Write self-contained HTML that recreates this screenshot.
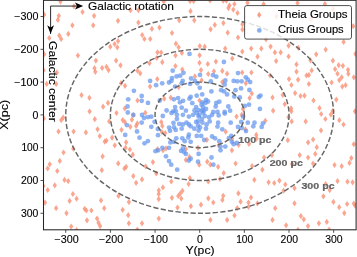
<!DOCTYPE html><html><head><meta charset="utf-8"><style>html,body{margin:0;padding:0;background:#fff;overflow:hidden}svg{display:block;filter:blur(0.3px)}text{font-family:"Liberation Sans",sans-serif;stroke:#000;stroke-width:0.12px}</style></head><body>
<svg width="357" height="257" viewBox="0 0 357 257">
<defs><clipPath id="pc"><rect x="43.50" y="0.30" width="312.60" height="229.50"/></clipPath><path id="dm" d="M0,-3.1 L2.15,0 L0,3.1 L-2.15,0Z"/></defs>
<g clip-path="url(#pc)">
<g fill="#f98d72" fill-opacity="0.78">
<use href="#dm" x="60.4" y="1.6"/>
<use href="#dm" x="74.0" y="6.3"/>
<use href="#dm" x="82.5" y="12.0"/>
<use href="#dm" x="44.1" y="14.7"/>
<use href="#dm" x="58.8" y="15.8"/>
<use href="#dm" x="57.9" y="19.9"/>
<use href="#dm" x="94.1" y="15.8"/>
<use href="#dm" x="72.4" y="25.3"/>
<use href="#dm" x="93.2" y="25.3"/>
<use href="#dm" x="118.0" y="20.8"/>
<use href="#dm" x="68.3" y="33.9"/>
<use href="#dm" x="59.3" y="35.5"/>
<use href="#dm" x="61.1" y="38.9"/>
<use href="#dm" x="49.3" y="38.0"/>
<use href="#dm" x="110.3" y="46.7"/>
<use href="#dm" x="114.6" y="44.0"/>
<use href="#dm" x="118.1" y="41.1"/>
<use href="#dm" x="117.3" y="47.3"/>
<use href="#dm" x="77.9" y="55.5"/>
<use href="#dm" x="44.1" y="54.2"/>
<use href="#dm" x="163.8" y="1.4"/>
<use href="#dm" x="190.1" y="1.1"/>
<use href="#dm" x="193.6" y="1.1"/>
<use href="#dm" x="130.5" y="10.2"/>
<use href="#dm" x="138.4" y="10.2"/>
<use href="#dm" x="190.5" y="11.2"/>
<use href="#dm" x="138.4" y="22.6"/>
<use href="#dm" x="179.2" y="20.3"/>
<use href="#dm" x="194.3" y="20.3"/>
<use href="#dm" x="151.9" y="28.9"/>
<use href="#dm" x="159.4" y="27.6"/>
<use href="#dm" x="172.0" y="33.0"/>
<use href="#dm" x="142.2" y="35.0"/>
<use href="#dm" x="144.4" y="39.0"/>
<use href="#dm" x="150.2" y="39.0"/>
<use href="#dm" x="175.9" y="43.7"/>
<use href="#dm" x="178.6" y="47.3"/>
<use href="#dm" x="157.5" y="52.3"/>
<use href="#dm" x="161.2" y="52.5"/>
<use href="#dm" x="175.5" y="55.4"/>
<use href="#dm" x="181.9" y="53.0"/>
<use href="#dm" x="199.8" y="46.1"/>
<use href="#dm" x="204.7" y="46.7"/>
<use href="#dm" x="199.6" y="55.3"/>
<use href="#dm" x="210.1" y="0.5"/>
<use href="#dm" x="223.2" y="0.7"/>
<use href="#dm" x="226.4" y="0.7"/>
<use href="#dm" x="229.5" y="5.4"/>
<use href="#dm" x="228.4" y="8.1"/>
<use href="#dm" x="234.4" y="4.0"/>
<use href="#dm" x="233.3" y="9.6"/>
<use href="#dm" x="237.5" y="13.0"/>
<use href="#dm" x="247.5" y="2.8"/>
<use href="#dm" x="214.8" y="24.9"/>
<use href="#dm" x="210.6" y="29.3"/>
<use href="#dm" x="223.4" y="23.1"/>
<use href="#dm" x="227.7" y="32.7"/>
<use href="#dm" x="238.0" y="37.5"/>
<use href="#dm" x="242.4" y="24.3"/>
<use href="#dm" x="242.4" y="29.6"/>
<use href="#dm" x="263.6" y="4.1"/>
<use href="#dm" x="276.4" y="16.3"/>
<use href="#dm" x="266.0" y="39.3"/>
<use href="#dm" x="225.2" y="48.6"/>
<use href="#dm" x="251.2" y="48.6"/>
<use href="#dm" x="261.3" y="48.6"/>
<use href="#dm" x="270.6" y="46.6"/>
<use href="#dm" x="242.3" y="51.6"/>
<use href="#dm" x="274.9" y="52.4"/>
<use href="#dm" x="280.7" y="52.4"/>
<use href="#dm" x="257.5" y="56.7"/>
<use href="#dm" x="232.3" y="58.5"/>
<use href="#dm" x="297.5" y="3.0"/>
<use href="#dm" x="324.9" y="4.0"/>
<use href="#dm" x="333.0" y="9.1"/>
<use href="#dm" x="311.2" y="19.2"/>
<use href="#dm" x="353.2" y="26.2"/>
<use href="#dm" x="288.6" y="45.7"/>
<use href="#dm" x="298.3" y="47.8"/>
<use href="#dm" x="288.6" y="56.5"/>
<use href="#dm" x="316.2" y="54.3"/>
<use href="#dm" x="325.7" y="49.6"/>
<use href="#dm" x="343.6" y="42.0"/>
<use href="#dm" x="355.5" y="53.9"/>
<use href="#dm" x="95.9" y="60.6"/>
<use href="#dm" x="94.5" y="68.2"/>
<use href="#dm" x="95.3" y="71.8"/>
<use href="#dm" x="102.1" y="67.9"/>
<use href="#dm" x="106.5" y="66.8"/>
<use href="#dm" x="108.5" y="70.1"/>
<use href="#dm" x="116.1" y="60.6"/>
<use href="#dm" x="120.5" y="65.3"/>
<use href="#dm" x="56.8" y="72.6"/>
<use href="#dm" x="56.1" y="83.9"/>
<use href="#dm" x="46.7" y="83.9"/>
<use href="#dm" x="43.5" y="70.3"/>
<use href="#dm" x="121.0" y="83.2"/>
<use href="#dm" x="81.5" y="95.1"/>
<use href="#dm" x="89.4" y="97.8"/>
<use href="#dm" x="103.1" y="106.7"/>
<use href="#dm" x="108.0" y="102.9"/>
<use href="#dm" x="89.6" y="111.4"/>
<use href="#dm" x="116.5" y="113.0"/>
<use href="#dm" x="137.5" y="70.7"/>
<use href="#dm" x="140.2" y="73.3"/>
<use href="#dm" x="149.5" y="63.2"/>
<use href="#dm" x="156.7" y="58.0"/>
<use href="#dm" x="162.3" y="62.2"/>
<use href="#dm" x="157.3" y="79.1"/>
<use href="#dm" x="125.0" y="85.8"/>
<use href="#dm" x="175.4" y="66.1"/>
<use href="#dm" x="182.3" y="69.5"/>
<use href="#dm" x="199.5" y="62.8"/>
<use href="#dm" x="201.0" y="70.1"/>
<use href="#dm" x="194.9" y="76.4"/>
<use href="#dm" x="201.6" y="80.3"/>
<use href="#dm" x="150.1" y="86.6"/>
<use href="#dm" x="137.5" y="100.5"/>
<use href="#dm" x="124.8" y="108.5"/>
<use href="#dm" x="145.3" y="112.8"/>
<use href="#dm" x="178.7" y="87.2"/>
<use href="#dm" x="164.2" y="98.7"/>
<use href="#dm" x="170.8" y="97.7"/>
<use href="#dm" x="199.5" y="100.5"/>
<use href="#dm" x="207.8" y="64.0"/>
<use href="#dm" x="215.9" y="61.6"/>
<use href="#dm" x="208.2" y="74.0"/>
<use href="#dm" x="213.9" y="71.3"/>
<use href="#dm" x="222.3" y="70.9"/>
<use href="#dm" x="227.1" y="73.7"/>
<use href="#dm" x="242.2" y="72.5"/>
<use href="#dm" x="222.3" y="82.1"/>
<use href="#dm" x="276.1" y="61.0"/>
<use href="#dm" x="251.4" y="72.5"/>
<use href="#dm" x="270.1" y="75.5"/>
<use href="#dm" x="245.8" y="83.3"/>
<use href="#dm" x="296.5" y="64.4"/>
<use href="#dm" x="296.5" y="71.7"/>
<use href="#dm" x="310.5" y="60.4"/>
<use href="#dm" x="311.7" y="70.4"/>
<use href="#dm" x="306.5" y="75.5"/>
<use href="#dm" x="308.9" y="74.9"/>
<use href="#dm" x="289.0" y="79.1"/>
<use href="#dm" x="298.1" y="79.7"/>
<use href="#dm" x="291.4" y="85.0"/>
<use href="#dm" x="308.9" y="84.0"/>
<use href="#dm" x="338.7" y="65.2"/>
<use href="#dm" x="342.9" y="65.8"/>
<use href="#dm" x="335.1" y="69.2"/>
<use href="#dm" x="337.5" y="73.7"/>
<use href="#dm" x="348.0" y="69.8"/>
<use href="#dm" x="348.3" y="73.8"/>
<use href="#dm" x="341.7" y="77.3"/>
<use href="#dm" x="339.3" y="80.1"/>
<use href="#dm" x="353.8" y="77.3"/>
<use href="#dm" x="331.6" y="82.5"/>
<use href="#dm" x="345.6" y="85.2"/>
<use href="#dm" x="251.8" y="93.6"/>
<use href="#dm" x="249.6" y="98.1"/>
<use href="#dm" x="272.5" y="97.5"/>
<use href="#dm" x="273.1" y="110.7"/>
<use href="#dm" x="282.8" y="95.0"/>
<use href="#dm" x="243.0" y="108.9"/>
<use href="#dm" x="295.1" y="93.2"/>
<use href="#dm" x="300.5" y="96.0"/>
<use href="#dm" x="304.5" y="95.7"/>
<use href="#dm" x="313.5" y="100.5"/>
<use href="#dm" x="284.8" y="104.1"/>
<use href="#dm" x="291.1" y="108.3"/>
<use href="#dm" x="291.4" y="111.3"/>
<use href="#dm" x="319.5" y="108.1"/>
<use href="#dm" x="321.2" y="114.0"/>
<use href="#dm" x="342.3" y="86.6"/>
<use href="#dm" x="336.3" y="99.6"/>
<use href="#dm" x="332.7" y="111.0"/>
<use href="#dm" x="355.0" y="111.3"/>
<use href="#dm" x="43.8" y="118.4"/>
<use href="#dm" x="61.2" y="120.1"/>
<use href="#dm" x="63.2" y="117.6"/>
<use href="#dm" x="58.5" y="131.5"/>
<use href="#dm" x="73.6" y="131.5"/>
<use href="#dm" x="85.9" y="132.4"/>
<use href="#dm" x="94.8" y="119.2"/>
<use href="#dm" x="97.6" y="129.3"/>
<use href="#dm" x="99.8" y="136.1"/>
<use href="#dm" x="73.3" y="148.7"/>
<use href="#dm" x="63.5" y="152.5"/>
<use href="#dm" x="109.2" y="121.4"/>
<use href="#dm" x="122.7" y="120.1"/>
<use href="#dm" x="124.9" y="122.1"/>
<use href="#dm" x="131.9" y="119.7"/>
<use href="#dm" x="130.3" y="126.8"/>
<use href="#dm" x="121.5" y="129.8"/>
<use href="#dm" x="136.1" y="126.0"/>
<use href="#dm" x="137.3" y="123.4"/>
<use href="#dm" x="104.7" y="141.6"/>
<use href="#dm" x="106.4" y="140.6"/>
<use href="#dm" x="112.1" y="137.7"/>
<use href="#dm" x="114.8" y="145.3"/>
<use href="#dm" x="126.1" y="142.3"/>
<use href="#dm" x="125.5" y="147.8"/>
<use href="#dm" x="129.9" y="149.5"/>
<use href="#dm" x="133.3" y="115.0"/>
<use href="#dm" x="161.3" y="122.0"/>
<use href="#dm" x="162.3" y="125.9"/>
<use href="#dm" x="161.8" y="132.0"/>
<use href="#dm" x="165.2" y="133.0"/>
<use href="#dm" x="236.5" y="116.6"/>
<use href="#dm" x="225.7" y="131.7"/>
<use href="#dm" x="206.9" y="139.8"/>
<use href="#dm" x="232.0" y="139.0"/>
<use href="#dm" x="157.6" y="149.0"/>
<use href="#dm" x="163.0" y="150.3"/>
<use href="#dm" x="166.0" y="148.4"/>
<use href="#dm" x="185.9" y="149.0"/>
<use href="#dm" x="185.9" y="159.9"/>
<use href="#dm" x="189.5" y="156.9"/>
<use href="#dm" x="198.0" y="147.8"/>
<use href="#dm" x="199.2" y="164.7"/>
<use href="#dm" x="218.7" y="145.4"/>
<use href="#dm" x="231.9" y="150.3"/>
<use href="#dm" x="238.6" y="144.8"/>
<use href="#dm" x="207.2" y="161.7"/>
<use href="#dm" x="210.3" y="164.7"/>
<use href="#dm" x="235.6" y="163.5"/>
<use href="#dm" x="218.1" y="166.8"/>
<use href="#dm" x="241.8" y="114.8"/>
<use href="#dm" x="265.3" y="120.8"/>
<use href="#dm" x="245.4" y="129.3"/>
<use href="#dm" x="256.3" y="134.9"/>
<use href="#dm" x="288.4" y="117.2"/>
<use href="#dm" x="291.7" y="121.4"/>
<use href="#dm" x="305.7" y="121.4"/>
<use href="#dm" x="321.0" y="130.5"/>
<use href="#dm" x="287.8" y="140.2"/>
<use href="#dm" x="313.1" y="139.5"/>
<use href="#dm" x="325.4" y="119.0"/>
<use href="#dm" x="330.9" y="114.6"/>
<use href="#dm" x="339.3" y="120.2"/>
<use href="#dm" x="343.5" y="124.5"/>
<use href="#dm" x="256.6" y="138.6"/>
<use href="#dm" x="249.0" y="143.8"/>
<use href="#dm" x="264.1" y="157.5"/>
<use href="#dm" x="271.9" y="155.1"/>
<use href="#dm" x="252.1" y="166.0"/>
<use href="#dm" x="308.1" y="142.4"/>
<use href="#dm" x="316.8" y="147.2"/>
<use href="#dm" x="315.3" y="153.9"/>
<use href="#dm" x="299.7" y="155.1"/>
<use href="#dm" x="308.1" y="157.5"/>
<use href="#dm" x="292.1" y="164.1"/>
<use href="#dm" x="313.1" y="163.5"/>
<use href="#dm" x="353.8" y="144.2"/>
<use href="#dm" x="351.3" y="158.1"/>
<use href="#dm" x="349.5" y="162.9"/>
<use href="#dm" x="334.5" y="165.0"/>
<use href="#dm" x="341.7" y="166.2"/>
<use href="#dm" x="59.8" y="160.9"/>
<use href="#dm" x="49.7" y="164.3"/>
<use href="#dm" x="47.7" y="168.5"/>
<use href="#dm" x="57.3" y="171.0"/>
<use href="#dm" x="64.5" y="179.9"/>
<use href="#dm" x="68.2" y="181.1"/>
<use href="#dm" x="54.8" y="185.3"/>
<use href="#dm" x="47.7" y="190.0"/>
<use href="#dm" x="72.9" y="194.0"/>
<use href="#dm" x="102.6" y="156.4"/>
<use href="#dm" x="101.8" y="170.2"/>
<use href="#dm" x="43.3" y="186.1"/>
<use href="#dm" x="132.8" y="154.7"/>
<use href="#dm" x="118.2" y="163.4"/>
<use href="#dm" x="124.4" y="168.5"/>
<use href="#dm" x="126.1" y="166.8"/>
<use href="#dm" x="133.3" y="176.1"/>
<use href="#dm" x="136.1" y="182.8"/>
<use href="#dm" x="142.0" y="179.4"/>
<use href="#dm" x="145.7" y="166.5"/>
<use href="#dm" x="152.9" y="162.1"/>
<use href="#dm" x="156.3" y="173.5"/>
<use href="#dm" x="158.8" y="190.3"/>
<use href="#dm" x="171.3" y="181.5"/>
<use href="#dm" x="162.9" y="187.4"/>
<use href="#dm" x="158.7" y="194.1"/>
<use href="#dm" x="158.7" y="199.1"/>
<use href="#dm" x="189.8" y="178.1"/>
<use href="#dm" x="188.6" y="184.0"/>
<use href="#dm" x="182.4" y="190.8"/>
<use href="#dm" x="180.2" y="193.5"/>
<use href="#dm" x="178.2" y="196.0"/>
<use href="#dm" x="181.3" y="198.6"/>
<use href="#dm" x="171.9" y="197.8"/>
<use href="#dm" x="208.3" y="181.5"/>
<use href="#dm" x="208.3" y="198.3"/>
<use href="#dm" x="213.3" y="202.5"/>
<use href="#dm" x="190.9" y="206.2"/>
<use href="#dm" x="201.0" y="204.7"/>
<use href="#dm" x="223.7" y="173.1"/>
<use href="#dm" x="219.9" y="179.0"/>
<use href="#dm" x="262.4" y="169.7"/>
<use href="#dm" x="254.3" y="179.8"/>
<use href="#dm" x="268.6" y="182.3"/>
<use href="#dm" x="274.2" y="183.0"/>
<use href="#dm" x="238.4" y="193.3"/>
<use href="#dm" x="223.2" y="195.8"/>
<use href="#dm" x="222.4" y="200.0"/>
<use href="#dm" x="240.6" y="201.7"/>
<use href="#dm" x="251.0" y="197.5"/>
<use href="#dm" x="248.5" y="202.5"/>
<use href="#dm" x="257.4" y="203.3"/>
<use href="#dm" x="279.4" y="180.6"/>
<use href="#dm" x="285.3" y="184.5"/>
<use href="#dm" x="283.6" y="190.7"/>
<use href="#dm" x="294.5" y="188.2"/>
<use href="#dm" x="325.6" y="184.0"/>
<use href="#dm" x="323.4" y="196.3"/>
<use href="#dm" x="294.5" y="203.3"/>
<use href="#dm" x="337.5" y="181.1"/>
<use href="#dm" x="347.5" y="181.7"/>
<use href="#dm" x="352.6" y="182.3"/>
<use href="#dm" x="329.7" y="190.1"/>
<use href="#dm" x="45.0" y="202.6"/>
<use href="#dm" x="69.6" y="200.9"/>
<use href="#dm" x="76.6" y="198.7"/>
<use href="#dm" x="56.1" y="208.2"/>
<use href="#dm" x="66.5" y="213.2"/>
<use href="#dm" x="84.7" y="208.8"/>
<use href="#dm" x="86.4" y="210.5"/>
<use href="#dm" x="91.4" y="210.5"/>
<use href="#dm" x="87.0" y="220.3"/>
<use href="#dm" x="71.2" y="226.6"/>
<use href="#dm" x="76.6" y="230.0"/>
<use href="#dm" x="101.0" y="200.4"/>
<use href="#dm" x="97.1" y="218.6"/>
<use href="#dm" x="98.5" y="222.8"/>
<use href="#dm" x="100.1" y="226.1"/>
<use href="#dm" x="104.2" y="208.2"/>
<use href="#dm" x="118.5" y="195.9"/>
<use href="#dm" x="128.9" y="202.1"/>
<use href="#dm" x="122.7" y="209.8"/>
<use href="#dm" x="128.2" y="215.2"/>
<use href="#dm" x="128.9" y="223.3"/>
<use href="#dm" x="142.0" y="223.3"/>
<use href="#dm" x="137.3" y="229.5"/>
<use href="#dm" x="158.8" y="218.6"/>
<use href="#dm" x="177.5" y="207.6"/>
<use href="#dm" x="210.4" y="219.9"/>
<use href="#dm" x="248.5" y="206.8"/>
<use href="#dm" x="237.2" y="208.1"/>
<use href="#dm" x="234.5" y="215.5"/>
<use href="#dm" x="227.1" y="219.9"/>
<use href="#dm" x="272.5" y="219.9"/>
<use href="#dm" x="275.2" y="208.2"/>
<use href="#dm" x="300.9" y="216.1"/>
<use href="#dm" x="303.8" y="219.4"/>
<use href="#dm" x="286.1" y="225.3"/>
<use href="#dm" x="308.0" y="226.1"/>
<use href="#dm" x="318.9" y="223.3"/>
<use href="#dm" x="326.8" y="221.9"/>
<use href="#dm" x="298.0" y="229.8"/>
<use href="#dm" x="333.4" y="201.9"/>
<use href="#dm" x="339.2" y="207.2"/>
<use href="#dm" x="347.1" y="204.0"/>
<use href="#dm" x="353.8" y="203.5"/>
<use href="#dm" x="355.3" y="205.8"/>
<use href="#dm" x="344.3" y="213.1"/>
<use href="#dm" x="329.1" y="229.5"/>
<use href="#dm" x="332.9" y="60.7"/>
</g>
<g fill="#6495ed" fill-opacity="0.72">
<circle cx="189.5" cy="53.9" r="2.4"/>
<circle cx="150.1" cy="80.9" r="2.4"/>
<circle cx="156.1" cy="85.2" r="2.4"/>
<circle cx="162.2" cy="83.3" r="2.4"/>
<circle cx="172.7" cy="70.7" r="2.4"/>
<circle cx="183.5" cy="72.8" r="2.4"/>
<circle cx="200.0" cy="74.9" r="2.4"/>
<circle cx="176.6" cy="76.4" r="2.4"/>
<circle cx="180.2" cy="75.7" r="2.4"/>
<circle cx="172.0" cy="78.1" r="2.4"/>
<circle cx="191.1" cy="78.5" r="2.4"/>
<circle cx="171.4" cy="80.9" r="2.4"/>
<circle cx="169.0" cy="82.5" r="2.4"/>
<circle cx="182.7" cy="80.9" r="2.4"/>
<circle cx="181.7" cy="83.3" r="2.4"/>
<circle cx="194.9" cy="80.9" r="2.4"/>
<circle cx="197.3" cy="83.3" r="2.4"/>
<circle cx="190.1" cy="83.9" r="2.4"/>
<circle cx="133.9" cy="90.8" r="2.4"/>
<circle cx="141.7" cy="96.0" r="2.4"/>
<circle cx="128.2" cy="99.3" r="2.4"/>
<circle cx="141.7" cy="100.8" r="2.4"/>
<circle cx="148.0" cy="102.9" r="2.4"/>
<circle cx="159.8" cy="100.5" r="2.4"/>
<circle cx="127.5" cy="106.5" r="2.4"/>
<circle cx="127.8" cy="112.5" r="2.4"/>
<circle cx="175.1" cy="86.6" r="2.4"/>
<circle cx="199.8" cy="87.8" r="2.4"/>
<circle cx="173.9" cy="99.3" r="2.4"/>
<circle cx="178.1" cy="98.1" r="2.4"/>
<circle cx="179.9" cy="102.3" r="2.4"/>
<circle cx="183.1" cy="100.8" r="2.4"/>
<circle cx="189.5" cy="98.7" r="2.4"/>
<circle cx="190.7" cy="96.9" r="2.4"/>
<circle cx="196.7" cy="95.7" r="2.4"/>
<circle cx="202.2" cy="94.4" r="2.4"/>
<circle cx="192.3" cy="103.2" r="2.4"/>
<circle cx="175.1" cy="107.1" r="2.4"/>
<circle cx="181.7" cy="107.7" r="2.4"/>
<circle cx="166.6" cy="110.5" r="2.4"/>
<circle cx="173.3" cy="111.3" r="2.4"/>
<circle cx="185.9" cy="110.7" r="2.4"/>
<circle cx="196.1" cy="107.1" r="2.4"/>
<circle cx="198.6" cy="110.1" r="2.4"/>
<circle cx="201.6" cy="104.7" r="2.4"/>
<circle cx="201.6" cy="110.7" r="2.4"/>
<circle cx="223.9" cy="62.0" r="2.4"/>
<circle cx="213.0" cy="75.2" r="2.4"/>
<circle cx="216.3" cy="76.7" r="2.4"/>
<circle cx="238.0" cy="73.1" r="2.4"/>
<circle cx="210.8" cy="81.5" r="2.4"/>
<circle cx="225.3" cy="80.5" r="2.4"/>
<circle cx="233.7" cy="80.9" r="2.4"/>
<circle cx="237.3" cy="81.3" r="2.4"/>
<circle cx="241.6" cy="81.3" r="2.4"/>
<circle cx="224.7" cy="84.5" r="2.4"/>
<circle cx="245.8" cy="77.3" r="2.4"/>
<circle cx="247.8" cy="79.7" r="2.4"/>
<circle cx="250.2" cy="82.1" r="2.4"/>
<circle cx="241.0" cy="88.4" r="2.4"/>
<circle cx="249.4" cy="90.0" r="2.4"/>
<circle cx="258.8" cy="97.0" r="2.4"/>
<circle cx="260.5" cy="95.6" r="2.4"/>
<circle cx="249.0" cy="104.7" r="2.4"/>
<circle cx="244.8" cy="105.9" r="2.4"/>
<circle cx="259.9" cy="108.9" r="2.4"/>
<circle cx="239.8" cy="97.5" r="2.4"/>
<circle cx="211.4" cy="91.4" r="2.4"/>
<circle cx="221.1" cy="90.2" r="2.4"/>
<circle cx="224.1" cy="91.4" r="2.4"/>
<circle cx="227.1" cy="94.4" r="2.4"/>
<circle cx="235.5" cy="90.2" r="2.4"/>
<circle cx="234.3" cy="96.5" r="2.4"/>
<circle cx="206.0" cy="99.9" r="2.4"/>
<circle cx="202.4" cy="102.3" r="2.4"/>
<circle cx="205.4" cy="102.9" r="2.4"/>
<circle cx="208.0" cy="101.5" r="2.4"/>
<circle cx="216.3" cy="102.9" r="2.4"/>
<circle cx="219.3" cy="101.7" r="2.4"/>
<circle cx="215.7" cy="106.5" r="2.4"/>
<circle cx="228.3" cy="106.5" r="2.4"/>
<circle cx="203.0" cy="107.1" r="2.4"/>
<circle cx="203.6" cy="110.7" r="2.4"/>
<circle cx="213.3" cy="111.9" r="2.4"/>
<circle cx="217.5" cy="111.9" r="2.4"/>
<circle cx="224.7" cy="111.9" r="2.4"/>
<circle cx="230.1" cy="110.7" r="2.4"/>
<circle cx="133.3" cy="115.0" r="2.4"/>
<circle cx="142.0" cy="115.0" r="2.4"/>
<circle cx="144.0" cy="118.1" r="2.4"/>
<circle cx="147.9" cy="117.1" r="2.4"/>
<circle cx="151.3" cy="116.7" r="2.4"/>
<circle cx="154.6" cy="121.8" r="2.4"/>
<circle cx="141.7" cy="122.6" r="2.4"/>
<circle cx="126.9" cy="125.1" r="2.4"/>
<circle cx="151.3" cy="126.8" r="2.4"/>
<circle cx="137.0" cy="131.5" r="2.4"/>
<circle cx="125.2" cy="134.9" r="2.4"/>
<circle cx="139.5" cy="137.7" r="2.4"/>
<circle cx="158.0" cy="135.2" r="2.4"/>
<circle cx="147.9" cy="141.1" r="2.4"/>
<circle cx="144.5" cy="143.3" r="2.4"/>
<circle cx="155.5" cy="151.2" r="2.4"/>
<circle cx="171.5" cy="113.0" r="2.4"/>
<circle cx="175.7" cy="111.2" r="2.4"/>
<circle cx="176.9" cy="114.8" r="2.4"/>
<circle cx="182.9" cy="114.8" r="2.4"/>
<circle cx="188.9" cy="116.6" r="2.4"/>
<circle cx="193.1" cy="114.8" r="2.4"/>
<circle cx="196.8" cy="113.0" r="2.4"/>
<circle cx="198.6" cy="116.6" r="2.4"/>
<circle cx="162.8" cy="116.0" r="2.4"/>
<circle cx="176.9" cy="119.0" r="2.4"/>
<circle cx="173.5" cy="123.0" r="2.4"/>
<circle cx="179.3" cy="123.9" r="2.4"/>
<circle cx="182.9" cy="124.5" r="2.4"/>
<circle cx="186.5" cy="122.7" r="2.4"/>
<circle cx="188.9" cy="124.5" r="2.4"/>
<circle cx="190.7" cy="126.3" r="2.4"/>
<circle cx="196.2" cy="122.0" r="2.4"/>
<circle cx="198.0" cy="125.7" r="2.4"/>
<circle cx="194.3" cy="128.7" r="2.4"/>
<circle cx="169.1" cy="127.6" r="2.4"/>
<circle cx="174.0" cy="127.3" r="2.4"/>
<circle cx="175.7" cy="129.9" r="2.4"/>
<circle cx="181.7" cy="128.7" r="2.4"/>
<circle cx="170.0" cy="130.8" r="2.4"/>
<circle cx="157.9" cy="129.1" r="2.4"/>
<circle cx="188.9" cy="134.7" r="2.4"/>
<circle cx="176.3" cy="138.3" r="2.4"/>
<circle cx="182.3" cy="138.3" r="2.4"/>
<circle cx="198.6" cy="130.5" r="2.4"/>
<circle cx="196.8" cy="135.9" r="2.4"/>
<circle cx="199.4" cy="114.8" r="2.4"/>
<circle cx="204.8" cy="116.0" r="2.4"/>
<circle cx="201.8" cy="119.0" r="2.4"/>
<circle cx="209.0" cy="117.2" r="2.4"/>
<circle cx="209.7" cy="121.4" r="2.4"/>
<circle cx="198.2" cy="121.4" r="2.4"/>
<circle cx="202.4" cy="122.7" r="2.4"/>
<circle cx="206.6" cy="124.5" r="2.4"/>
<circle cx="212.1" cy="114.8" r="2.4"/>
<circle cx="218.7" cy="115.4" r="2.4"/>
<circle cx="224.7" cy="113.6" r="2.4"/>
<circle cx="218.1" cy="122.7" r="2.4"/>
<circle cx="217.5" cy="126.6" r="2.4"/>
<circle cx="222.3" cy="129.3" r="2.4"/>
<circle cx="230.7" cy="122.7" r="2.4"/>
<circle cx="206.0" cy="128.7" r="2.4"/>
<circle cx="200.0" cy="127.5" r="2.4"/>
<circle cx="238.0" cy="126.9" r="2.4"/>
<circle cx="201.2" cy="135.9" r="2.4"/>
<circle cx="212.1" cy="136.5" r="2.4"/>
<circle cx="215.1" cy="138.3" r="2.4"/>
<circle cx="231.3" cy="135.9" r="2.4"/>
<circle cx="170.3" cy="142.4" r="2.4"/>
<circle cx="173.9" cy="141.8" r="2.4"/>
<circle cx="184.7" cy="141.2" r="2.4"/>
<circle cx="190.7" cy="141.8" r="2.4"/>
<circle cx="188.3" cy="137.5" r="2.4"/>
<circle cx="162.4" cy="147.8" r="2.4"/>
<circle cx="169.0" cy="147.8" r="2.4"/>
<circle cx="181.1" cy="150.9" r="2.4"/>
<circle cx="182.9" cy="148.4" r="2.4"/>
<circle cx="184.1" cy="152.1" r="2.4"/>
<circle cx="185.9" cy="153.9" r="2.4"/>
<circle cx="166.0" cy="156.3" r="2.4"/>
<circle cx="190.7" cy="158.7" r="2.4"/>
<circle cx="188.9" cy="160.5" r="2.4"/>
<circle cx="169.0" cy="161.1" r="2.4"/>
<circle cx="171.2" cy="164.7" r="2.4"/>
<circle cx="198.0" cy="161.7" r="2.4"/>
<circle cx="198.6" cy="153.9" r="2.4"/>
<circle cx="158.2" cy="150.3" r="2.4"/>
<circle cx="204.2" cy="140.0" r="2.4"/>
<circle cx="219.3" cy="141.2" r="2.4"/>
<circle cx="220.5" cy="146.6" r="2.4"/>
<circle cx="225.3" cy="146.6" r="2.4"/>
<circle cx="220.5" cy="150.3" r="2.4"/>
<circle cx="228.9" cy="138.2" r="2.4"/>
<circle cx="231.9" cy="141.8" r="2.4"/>
<circle cx="233.7" cy="144.2" r="2.4"/>
<circle cx="236.8" cy="143.0" r="2.4"/>
<circle cx="211.5" cy="157.5" r="2.4"/>
<circle cx="213.3" cy="164.7" r="2.4"/>
<circle cx="243.0" cy="116.6" r="2.4"/>
<circle cx="241.2" cy="122.0" r="2.4"/>
<circle cx="247.8" cy="122.7" r="2.4"/>
<circle cx="254.5" cy="122.7" r="2.4"/>
<circle cx="253.3" cy="126.3" r="2.4"/>
<circle cx="262.9" cy="123.3" r="2.4"/>
<circle cx="261.7" cy="126.9" r="2.4"/>
<circle cx="241.8" cy="128.1" r="2.4"/>
<circle cx="246.0" cy="131.1" r="2.4"/>
<circle cx="177.2" cy="169.7" r="2.4"/>
<circle cx="194.5" cy="110.5" r="2.4"/>
<circle cx="203.2" cy="112.8" r="2.4"/>
<circle cx="206.0" cy="109.0" r="2.4"/>
</g>
<ellipse cx="199.70" cy="114.90" rx="44.65" ry="32.79" fill="none" stroke="#666" stroke-width="1.45" stroke-dasharray="5.2,2.3"/>
<ellipse cx="199.70" cy="114.90" rx="89.30" ry="65.58" fill="none" stroke="#666" stroke-width="1.45" stroke-dasharray="5.2,2.3"/>
<ellipse cx="199.70" cy="114.90" rx="133.95" ry="98.37" fill="none" stroke="#666" stroke-width="1.45" stroke-dasharray="5.2,2.3"/>
</g>
<g font-weight="bold" fill="#6b6b6b" style="stroke:none" font-size="9.8">
<text x="238.3" y="142.7" textLength="33.2" lengthAdjust="spacingAndGlyphs">100 pc</text>
<text x="269.7" y="166.2" textLength="33.2" lengthAdjust="spacingAndGlyphs">200 pc</text>
<text x="301.4" y="189.2" textLength="33.2" lengthAdjust="spacingAndGlyphs">300 pc</text>
</g>
<rect x="43.50" y="0.30" width="312.60" height="229.50" fill="none" stroke="#262626" stroke-width="1.05"/>
<path d="M65.75,229.80v3M43.50,16.53h-3M110.40,229.80v3M43.50,49.32h-3M155.05,229.80v3M43.50,82.11h-3M199.70,229.80v3M43.50,114.90h-3M244.35,229.80v3M43.50,147.69h-3M289.00,229.80v3M43.50,180.48h-3M333.65,229.80v3M43.50,213.27h-3" stroke="#333" stroke-width="0.85" fill="none"/>
<g font-size="10.2" fill="#000">
<text x="66.55" y="242.7" text-anchor="middle" textLength="24.2" lengthAdjust="spacingAndGlyphs">−300</text>
<text x="38.4" y="20.23" text-anchor="end" textLength="24.2" lengthAdjust="spacingAndGlyphs">−300</text>
<text x="111.20" y="242.7" text-anchor="middle" textLength="24.2" lengthAdjust="spacingAndGlyphs">−200</text>
<text x="38.4" y="53.02" text-anchor="end" textLength="24.2" lengthAdjust="spacingAndGlyphs">−200</text>
<text x="155.85" y="242.7" text-anchor="middle" textLength="24.2" lengthAdjust="spacingAndGlyphs">−100</text>
<text x="38.4" y="85.81" text-anchor="end" textLength="24.2" lengthAdjust="spacingAndGlyphs">−100</text>
<text x="200.00" y="242.7" text-anchor="middle" textLength="5.9" lengthAdjust="spacingAndGlyphs">0</text>
<text x="38.4" y="118.60" text-anchor="end" textLength="5.9" lengthAdjust="spacingAndGlyphs">0</text>
<text x="244.65" y="242.7" text-anchor="middle" textLength="17.0" lengthAdjust="spacingAndGlyphs">100</text>
<text x="38.4" y="151.39" text-anchor="end" textLength="17.0" lengthAdjust="spacingAndGlyphs">100</text>
<text x="289.30" y="242.7" text-anchor="middle" textLength="17.4" lengthAdjust="spacingAndGlyphs">200</text>
<text x="38.4" y="184.18" text-anchor="end" textLength="17.4" lengthAdjust="spacingAndGlyphs">200</text>
<text x="333.95" y="242.7" text-anchor="middle" textLength="17.4" lengthAdjust="spacingAndGlyphs">300</text>
<text x="38.4" y="216.97" text-anchor="end" textLength="17.4" lengthAdjust="spacingAndGlyphs">300</text>
</g>
<text x="200.0" y="253.9" font-size="10" text-anchor="middle" textLength="29.2" lengthAdjust="spacingAndGlyphs">Y(pc)</text>
<text transform="translate(8.3,114.85) rotate(-90)" font-size="10" text-anchor="middle" textLength="29.8" lengthAdjust="spacingAndGlyphs">X(pc)</text>
<path d="M50.6,34 V6.05 H78" stroke="#2a2a2a" stroke-width="1.0" fill="none"/>
<path d="M83.2,6.05 L75,2.6 L77,6.05 L75,9.5Z" fill="#000"/>
<path d="M50.6,33.8 L47.2,25.2 L50.6,27.4 L54,25.2Z" fill="#000"/>
<text x="88.0" y="9.5" font-size="10" fill="#000" textLength="86" lengthAdjust="spacingAndGlyphs">Galactic rotation</text>
<text transform="translate(48.5,41.0) rotate(90)" font-size="10" fill="#000" textLength="80.7" lengthAdjust="spacingAndGlyphs">Galactic center</text>
<rect x="244.6" y="5.6" width="106.9" height="33.5" rx="2.2" fill="#fff" fill-opacity="0.8" stroke="#3c3c3c" stroke-width="0.9"/>
<use href="#dm" x="259.2" y="14.9" fill="#f98d72" fill-opacity="0.85"/>
<circle cx="259.3" cy="30.4" r="2.4" fill="#6495ed" fill-opacity="0.75"/>
<text x="278.0" y="18" font-size="10.3" fill="#000" textLength="69.6" lengthAdjust="spacingAndGlyphs">Theia Groups</text>
<text x="278.0" y="32.6" font-size="10.3" fill="#000" textLength="65.7" lengthAdjust="spacingAndGlyphs">Crius Groups</text>
</svg></body></html>
